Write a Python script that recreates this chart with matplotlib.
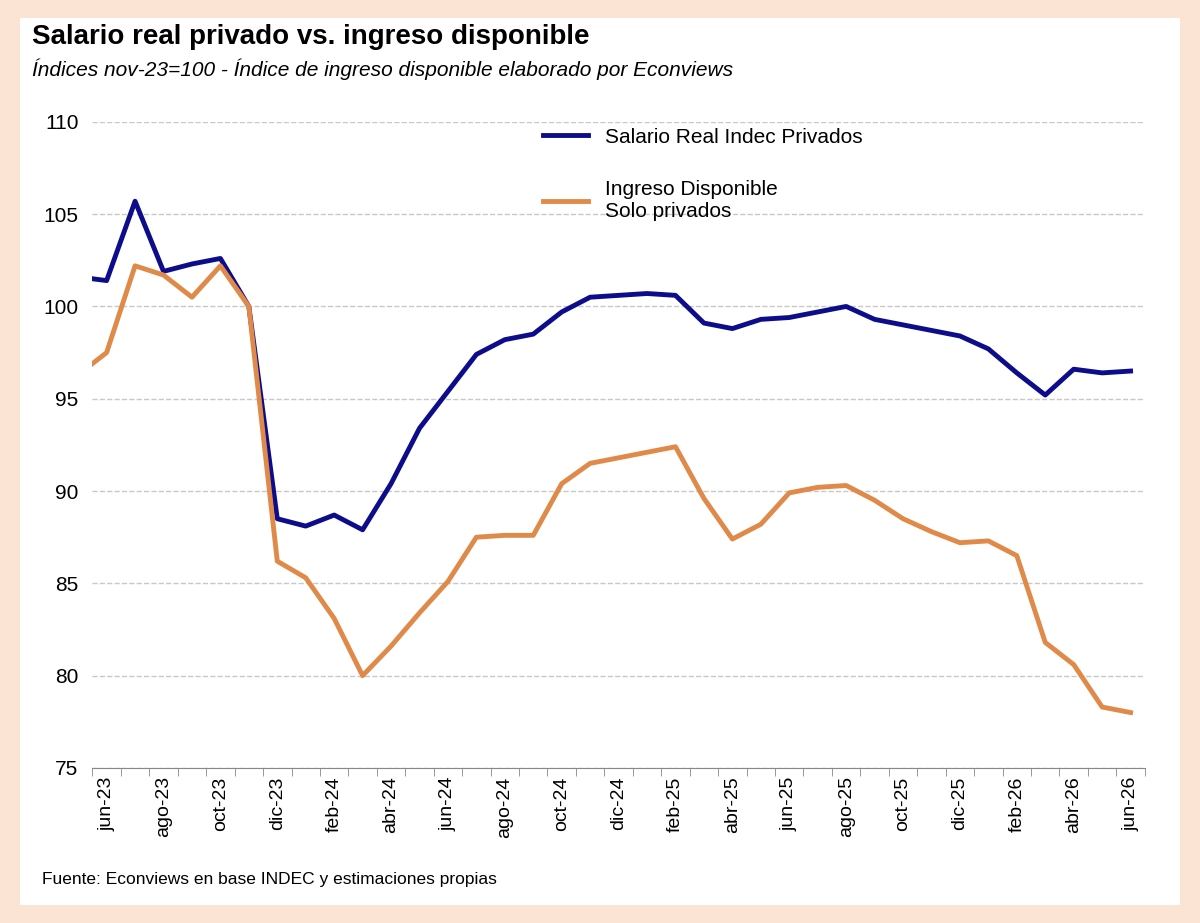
import numpy as np
import matplotlib.pyplot as plt
from matplotlib.patches import Rectangle

months = ["may-23",
          "jun-23", "jul-23", "ago-23", "sep-23", "oct-23", "nov-23", "dic-23",
          "ene-24", "feb-24", "mar-24", "abr-24", "may-24", "jun-24", "jul-24", "ago-24",
          "sep-24", "oct-24", "nov-24", "dic-24", "ene-25", "feb-25", "mar-25", "abr-25",
          "may-25", "jun-25", "jul-25", "ago-25", "sep-25", "oct-25", "nov-25", "dic-25",
          "ene-26", "feb-26", "mar-26", "abr-26", "may-26", "jun-26"]
salario = [101.6,
           101.4, 105.7, 101.9, 102.3, 102.6, 100.0, 88.5,
           88.1, 88.7, 87.9, 90.4, 93.4, 95.4, 97.4, 98.2,
           98.5, 99.7, 100.5, 100.6, 100.7, 100.6, 99.1, 98.8,
           99.3, 99.4, 99.7, 100.0, 99.3, 99.0, 98.7, 98.4,
           97.7, 96.4, 95.2, 96.6, 96.4, 96.5]
ingreso = [96.3,
           97.5, 102.2, 101.7, 100.5, 102.2, 100.0, 86.2,
           85.3, 83.1, 80.0, 81.6, 83.4, 85.1, 87.5, 87.6,
           87.6, 90.4, 91.5, 91.8, 92.1, 92.4, 89.6, 87.4,
           88.2, 89.9, 90.2, 90.3, 89.5, 88.5, 87.8, 87.2,
           87.3, 86.5, 81.8, 80.6, 78.3, 78.0]

x = np.arange(len(months)) - 1  # jun-23 at 0

fig = plt.figure(figsize=(12, 9.23), dpi=100, facecolor="#fbe4d3")
fig.patches.append(Rectangle((0.017, 0.02), 0.966, 0.96, transform=fig.transFigure,
                             facecolor="white", edgecolor="none", zorder=-5))
ax = fig.add_axes([0.077, 0.168, 0.877, 0.70])
ax.set_zorder(2)
ax.patch.set_alpha(0)

ax.plot(x, salario, color="#0d0d8c", lw=3.5, label="Salario Real Indec Privados")
ax.plot(x, ingreso, color="#e08a4a", lw=3.5, label="Ingreso Disponible\nSolo privados")

ax.set_xlim(-0.5, len(months) - 1.5)
ax.set_ylim(75, 110)
ax.set_yticks(np.arange(75, 111, 5))
ax.yaxis.grid(True, ls="--", color="#c8c8c8", lw=1)
ax.set_axisbelow(True)
ax.set_xticks(x[1::2])
ax.set_xticklabels(months[1::2], rotation=90, fontsize=14, family="Liberation Sans")
ax.set_xticks(np.arange(-0.5, len(months) - 1, 1), minor=True)
ax.tick_params(axis="x", which="major", length=0, pad=6)
ax.tick_params(axis="x", which="minor", length=6, color="#888888")
ax.tick_params(axis="y", length=0, labelsize=15, pad=10)
for lab in ax.get_yticklabels():
  lab.set_family("Liberation Sans")
for s in ["top", "right", "left"]:
  ax.spines[s].set_visible(False)
ax.spines["bottom"].set_color("#888888")

leg = ax.legend(loc="upper left", bbox_to_anchor=(0.41, 1.02), frameon=False,
                handlelength=2.2, labelspacing=1.6,
                prop={"family": "Liberation Sans", "size": 15})

fig.text(0.027, 0.952, "Salario real privado vs. ingreso disponible",
         fontsize=20, fontweight="bold", family="Liberation Sans")
fig.text(0.027, 0.918, "Índices nov-23=100 - Índice de ingreso disponible elaborado por Econviews",
         fontsize=15, style="italic", family="Liberation Sans")
fig.text(0.035, 0.042, "Fuente: Econviews en base INDEC y estimaciones propias",
         fontsize=12.5, family="Liberation Sans")

fig.savefig("out.png", dpi=100, facecolor=fig.get_facecolor())
